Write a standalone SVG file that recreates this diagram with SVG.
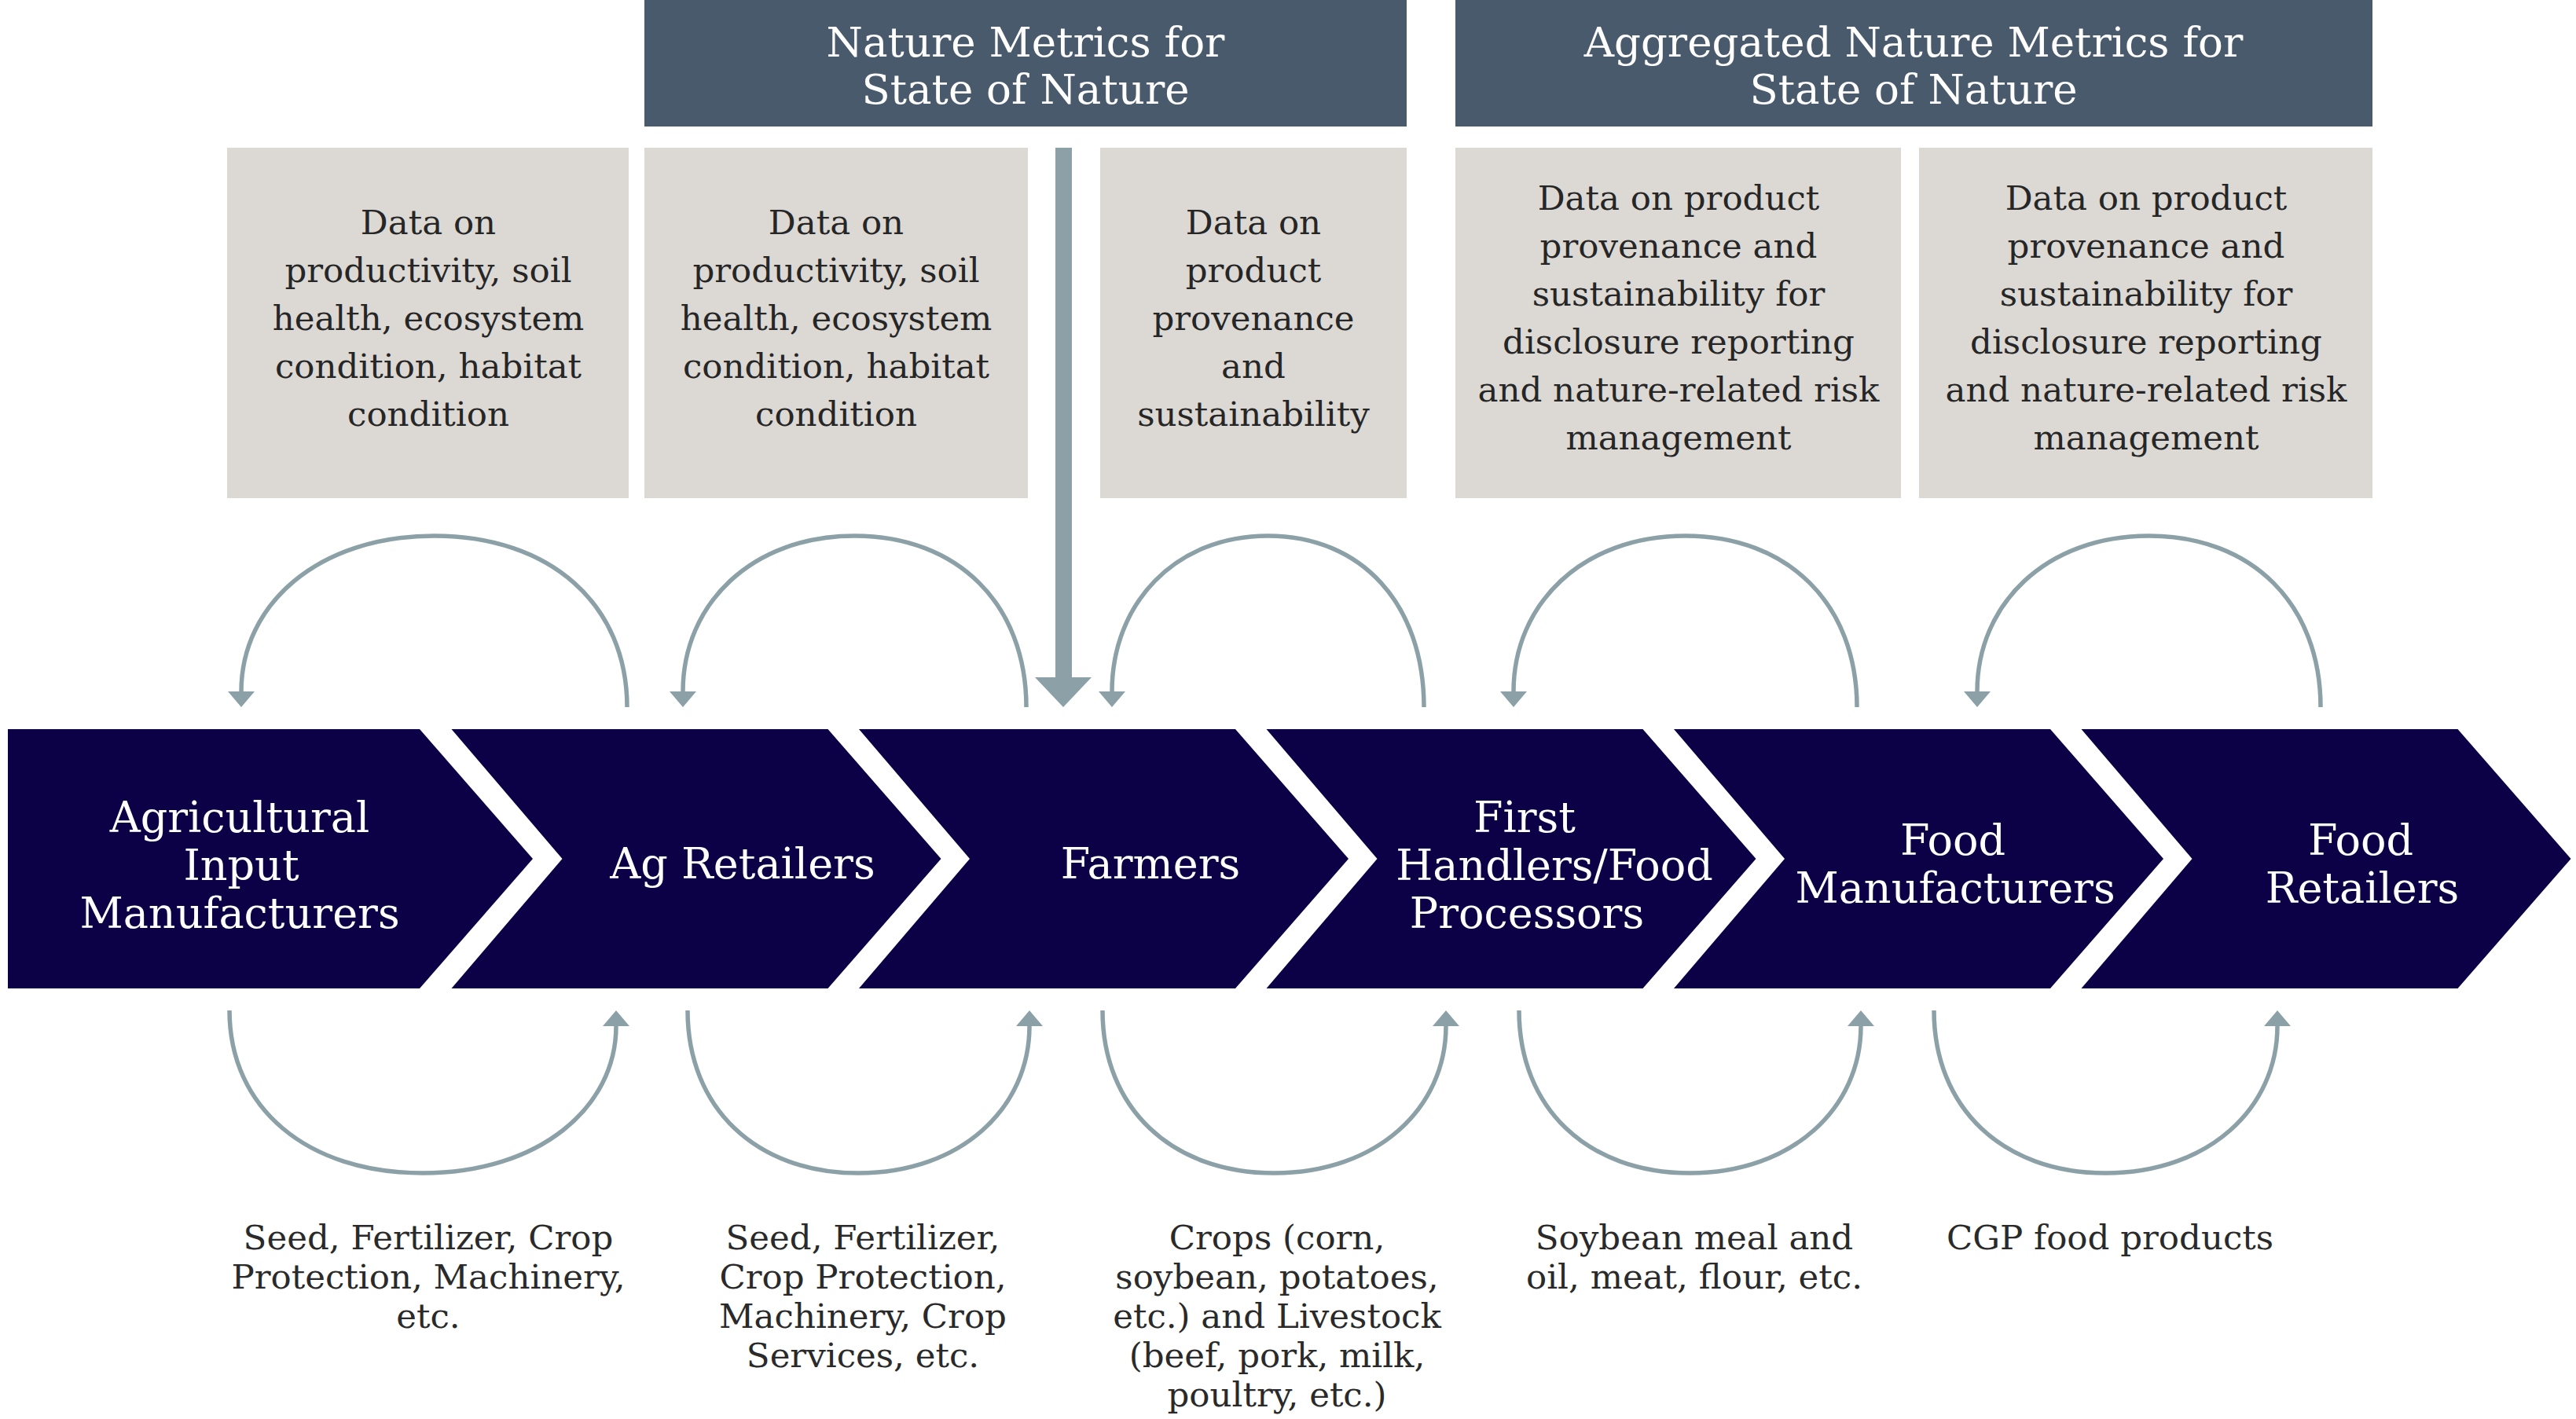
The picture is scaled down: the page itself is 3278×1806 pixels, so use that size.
<svg xmlns="http://www.w3.org/2000/svg" width="3278" height="1806" viewBox="0 0 3278 1806">
<defs>
<style>
.hdr{fill:#4a5a6d}
.hdrt{fill:#ffffff;font-family:"DejaVu Serif","Liberation Serif",serif;font-size:53px;text-anchor:middle}
.box{fill:#dcd9d5}
.boxt{fill:#262626;font-family:"DejaVu Serif","Liberation Serif",serif;font-size:43.5px;text-anchor:middle}
.chev{fill:#0c0047}
.chevt{fill:#ffffff;font-family:"DejaVu Serif","Liberation Serif",serif;font-size:54px;text-anchor:middle}
.lbl{fill:#2a2a2a;font-family:"DejaVu Serif","Liberation Serif",serif;font-size:43.5px;text-anchor:middle}
.arc{fill:none;stroke:#8ca1a7;stroke-width:5.5;marker-end:url(#ah)}
.big{fill:#8ca1a7}
</style>
<marker id="ah" markerUnits="userSpaceOnUse" viewBox="0 -17 20 34" refX="0" refY="0" markerWidth="20" markerHeight="34" orient="auto">
<path d="M0,-17 L20,0 L0,17 Z" fill="#8ca1a7"/>
</marker>
</defs>
<rect width="3278" height="1806" fill="#ffffff"/>

<g id="header-nature-metrics">
<rect class="hdr" x="820" y="0" width="970" height="161"/>
<text class="hdrt" x="1305" y="72">Nature Metrics for</text>
<text class="hdrt" x="1305" y="132">State of Nature</text>
</g>
<g id="header-aggregated">
<rect class="hdr" x="1852" y="0" width="1167" height="161"/>
<text class="hdrt" x="2435" y="72">Aggregated Nature Metrics for</text>
<text class="hdrt" x="2435" y="132">State of Nature</text>
</g>

<g id="data-box-1">
<rect class="box" x="289" y="188" width="511" height="446"/>
<text class="boxt" x="545" y="298">Data on</text>
<text class="boxt" x="545" y="359">productivity, soil</text>
<text class="boxt" x="545" y="420">health, ecosystem</text>
<text class="boxt" x="545" y="481">condition, habitat</text>
<text class="boxt" x="545" y="542">condition</text>
</g>
<g id="data-box-2">
<rect class="box" x="820" y="188" width="488" height="446"/>
<text class="boxt" x="1064" y="298">Data on</text>
<text class="boxt" x="1064" y="359">productivity, soil</text>
<text class="boxt" x="1064" y="420">health, ecosystem</text>
<text class="boxt" x="1064" y="481">condition, habitat</text>
<text class="boxt" x="1064" y="542">condition</text>
</g>
<g id="data-box-3">
<rect class="box" x="1400" y="188" width="390" height="446"/>
<text class="boxt" x="1595" y="298">Data on</text>
<text class="boxt" x="1595" y="359">product</text>
<text class="boxt" x="1595" y="420">provenance</text>
<text class="boxt" x="1595" y="481">and</text>
<text class="boxt" x="1595" y="542">sustainability</text>
</g>
<g id="data-box-4">
<rect class="box" x="1852" y="188" width="567" height="446"/>
<text class="boxt" x="2136" y="267">Data on product</text>
<text class="boxt" x="2136" y="328">provenance and</text>
<text class="boxt" x="2136" y="389">sustainability for</text>
<text class="boxt" x="2136" y="450">disclosure reporting</text>
<text class="boxt" x="2136" y="511">and nature-related risk</text>
<text class="boxt" x="2136" y="572">management</text>
</g>
<g id="data-box-5">
<rect class="box" x="2442" y="188" width="577" height="446"/>
<text class="boxt" x="2731" y="267">Data on product</text>
<text class="boxt" x="2731" y="328">provenance and</text>
<text class="boxt" x="2731" y="389">sustainability for</text>
<text class="boxt" x="2731" y="450">disclosure reporting</text>
<text class="boxt" x="2731" y="511">and nature-related risk</text>
<text class="boxt" x="2731" y="572">management</text>
</g>

<g id="stage-agricultural-input-manufacturers">
<polygon class="chev" points="10,928 534,928 678,1093 534,1258 10,1258"/>
<text class="chevt" x="305" y="1059">Agricultural</text>
<text class="chevt" x="307" y="1120">Input</text>
<text class="chevt" x="305" y="1181">Manufacturers</text>
</g>
<g id="stage-ag-retailers">
<polygon class="chev" points="574.5,928 1053.5,928 1197.5,1093 1053.5,1258 574.5,1258 715.5,1093"/>
<text class="chevt" x="945" y="1118">Ag Retailers</text>
</g>
<g id="stage-farmers">
<polygon class="chev" points="1093,928 1572,928 1716,1093 1572,1258 1093,1258 1234,1093"/>
<text class="chevt" x="1464" y="1118">Farmers</text>
</g>
<g id="stage-first-handlers">
<polygon class="chev" points="1611.5,928 2090.5,928 2234.5,1093 2090.5,1258 1611.5,1258 1752.5,1093"/>
<text class="chevt" x="1940" y="1059">First</text>
<text class="chevt" x="1978" y="1120">Handlers/Food</text>
<text class="chevt" x="1943" y="1181">Processors</text>
</g>
<g id="stage-food-manufacturers">
<polygon class="chev" points="2130,928 2609,928 2753,1093 2609,1258 2130,1258 2271,1093"/>
<text class="chevt" x="2485" y="1088">Food</text>
<text class="chevt" x="2488" y="1149">Manufacturers</text>
</g>
<g id="stage-food-retailers">
<polygon class="chev" points="2648.5,928 3127.5,928 3271.5,1093 3127.5,1258 2648.5,1258 2789.5,1093"/>
<text class="chevt" x="3004" y="1088">Food</text>
<text class="chevt" x="3006" y="1149">Retailers</text>
</g>

<g id="connectors">
<path class="arc" d="M798,900 C798,769 700,682 552.5,682 C405,682 307,769 307,880"/>
<path class="arc" d="M1306,900 C1306,769 1218.6,682 1087.5,682 C956.4,682 869,769 869,880"/>
<path class="arc" d="M1812,900 C1812,769 1732.6,682 1613.5,682 C1494.4,682 1415,769 1415,880"/>
<path class="arc" d="M2363,900 C2363,769 2275.6,682 2144.5,682 C2013.4,682 1926,769 1926,880"/>
<path class="arc" d="M2953,900 C2953,769 2865.6,682 2734.5,682 C2603.4,682 2516,769 2516,880"/>
<path class="arc" d="M292,1286 C292,1410 390.4,1493 538,1493 C685.6,1493 784,1410 784,1306"/>
<path class="arc" d="M875,1286 C875,1410 962,1493 1092.5,1493 C1223,1493 1310,1410 1310,1306"/>
<path class="arc" d="M1403,1286 C1403,1410 1490.4,1493 1621.5,1493 C1752.6,1493 1840,1410 1840,1306"/>
<path class="arc" d="M1933,1286 C1933,1410 2020,1493 2150.5,1493 C2281,1493 2368,1410 2368,1306"/>
<path class="arc" d="M2461,1286 C2461,1410 2548.4,1493 2679.5,1493 C2810.6,1493 2898,1410 2898,1306"/>
<path class="big" d="M1343,188 L1364,188 L1364,862 L1389,862 L1353,900 L1317,862 L1343,862 Z"/>
</g>

<g id="flow-labels">
<text class="lbl" x="545" y="1590">Seed, Fertilizer, Crop</text>
<text class="lbl" x="545" y="1640">Protection, Machinery,</text>
<text class="lbl" x="545" y="1690">etc.</text>
<text class="lbl" x="1098" y="1590">Seed, Fertilizer,</text>
<text class="lbl" x="1098" y="1640">Crop Protection,</text>
<text class="lbl" x="1098" y="1690">Machinery, Crop</text>
<text class="lbl" x="1098" y="1740">Services, etc.</text>
<text class="lbl" x="1625" y="1590">Crops (corn,</text>
<text class="lbl" x="1625" y="1640">soybean, potatoes,</text>
<text class="lbl" x="1625" y="1690">etc.) and Livestock</text>
<text class="lbl" x="1625" y="1740">(beef, pork, milk,</text>
<text class="lbl" x="1625" y="1790">poultry, etc.)</text>
<text class="lbl" x="2156" y="1590">Soybean meal and</text>
<text class="lbl" x="2156" y="1640">oil, meat, flour, etc.</text>
<text class="lbl" x="2685" y="1590">CGP food products</text>
</g>
</svg>
